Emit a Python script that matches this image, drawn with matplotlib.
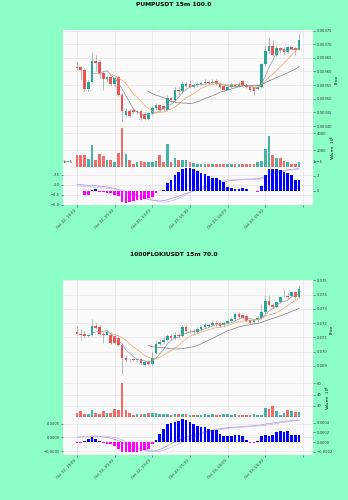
import matplotlib
matplotlib.use('Agg')
import matplotlib.pyplot as plt
import numpy as np
import pandas as pd

W, H = 348, 500
BG = '#8cffc6'
UP, DOWN = '#26a69a', '#ef5350'
WICK = '#8a8a8a'

times = pd.date_range('2024-10-22 18:00', periods=60, freq='15min')

# ---- PUMPUSDT ----
pump_title = 'PUMPUSDT 15m 100.0'
pump_open = [.003618, .003615, .003604, .003535, .003563, .003639, .003633, .003594, .003572, .003579,
             .003555, .003578, .003515, .003442, .003456, .003460, .003451, .003457, .003445, .003427,
             .003448, .003466, .003476, .003472, .003460, .003502, .003496, .003533, .003530, .003548,
             .003555, .003543, .003550, .003555, .003557, .003563, .003557, .003565, .003555, .003548,
             .003533, .003543, .003551, .003548, .003565, .003551, .003545, .003543, .003535, .003543,
             .003627, .003676, .003694, .003661, .003685, .003682, .003673, .003688, .003685, .003679]
pump_close = [.003614, .003604, .003535, .003563, .003639, .003630, .003594, .003572, .003579, .003555,
              .003576, .003515, .003454, .003456, .003438, .003451, .003457, .003429, .003427, .003448,
              .003466, .003476, .003460, .003463, .003502, .003496, .003533, .003530, .003555, .003555,
              .003543, .003550, .003555, .003559, .003562, .003557, .003562, .003555, .003545, .003533,
              .003543, .003551, .003548, .003555, .003548, .003543, .003533, .003530, .003543, .003627,
              .003676, .003694, .003661, .003685, .003679, .003673, .003688, .003682, .003679, .003716]
pump_high = [.003633, .003618, .003612, .003570, .003673, .003661, .003643, .003600, .003584, .003584,
             .003582, .003584, .003521, .003466, .003462, .003466, .003460, .003462, .003450, .003451,
             .003474, .003484, .003482, .003478, .003515, .003508, .003543, .003543, .003567, .003560,
             .003570, .003558, .003563, .003567, .003572, .003570, .003572, .003572, .003560, .003553,
             .003548, .003563, .003557, .003567, .003570, .003557, .003551, .003548, .003551, .003631,
             .003698, .003728, .003716, .003698, .003691, .003688, .003694, .003691, .003691, .003740]
pump_low = [.003604, .003570, .003530, .003530, .003557, .003600, .003576, .003533, .003563, .003548,
            .003543, .003509, .003417, .003436, .003434, .003445, .003445, .003423, .003421, .003421,
            .003442, .003460, .003454, .003454, .003454, .003490, .003490, .003515, .003523, .003543,
            .003539, .003541, .003545, .003550, .003553, .003551, .003553, .003550, .003539, .003527,
            .003531, .003539, .003543, .003543, .003543, .003539, .003527, .003515, .003531, .003539,
            .003624, .003667, .003657, .003655, .003667, .003664, .003667, .003677, .003661, .003677]
pump_volume = [1400, 1400, 1400, 900, 2640, 770, 1490, 1280, 810, 770,
               600, 1700, 4600, 1530, 850, 340, 600, 720, 640, 600,
               640, 720, 1360, 640, 2680, 600, 1020, 810, 810, 810,
               640, 510, 400, 350, 380, 300, 350, 400, 380, 330,
               300, 400, 350, 380, 300, 330, 300, 350, 640, 720,
               2130, 3620, 1360, 1020, 1100, 720, 640, 340, 340, 640]
pump_hist = [-0.09, -0.09, -0.62, -0.53, 0.13, 0.22, -0.13, -0.13, -0.27, -0.31,
             -0.53, -0.76, -1.56, -1.64, -1.51, -1.42, -1.33, -1.33, -1.20, -0.98,
             -0.80, -0.31, -0.09, 0.13, 1.02, 1.47, 2.13, 2.58, 2.93, 3.02,
             3.02, 2.93, 2.67, 2.36, 2.22, 2.04, 1.78, 1.69, 1.47, 1.24,
             0.44, 0.36, 0.27, 0.27, 0.36, 0.27, -0.09, -0.09, -0.13, 0.67,
             2.13, 2.93, 2.89, 2.93, 2.80, 2.58, 2.36, 2.13, 1.47, 1.47]
pump_macd = [0.2, 0.1, 0.0, -0.1, -0.1, -0.2, -0.3, -0.4, -0.5, -0.7,
             -0.9, -1.1, -1.4, -1.8, -2.2, -2.5, -2.8, -3.1, -3.3, -3.6,
             -3.8, -3.9, -4.0, -3.9, -3.7, -3.4, -3.1, -2.8, -2.5, -2.1,
             -1.8, -1.5, -1.2, -0.9, -0.6, -0.3, 0.0, 0.3, 0.6, 0.8,
             1.0, 1.1, 1.2, 1.3, 1.4, 1.5, 1.5, 1.5, 1.6, 1.8,
             2.2, 2.6, 2.9, 3.2, 3.4, 3.6, 3.8, 3.9, 4.0, 4.2]
pump_signal = [-0.2, -0.3, -0.3, -0.4, -0.5, -0.5, -0.6, -0.7, -0.8, -0.9,
               -1.0, -1.2, -1.4, -1.6, -1.9, -2.2, -2.5, -2.8, -3.1, -3.4,
               -3.7, -4.0, -4.2, -4.3, -4.2, -4.0, -3.7, -3.3, -2.9, -2.4,
               -1.9, -1.4, -0.9, -0.5, -0.1, 0.3, 0.6, 0.9, 1.1, 1.2,
               1.3, 1.3, 1.3, 1.4, 1.4, 1.4, 1.4, 1.4, 1.4, 1.5,
               1.8, 2.2, 2.6, 3.0, 3.3, 3.5, 3.7, 3.8, 3.9, 4.0]

# ---- 1000FLOKIUSDT ----
floki_title = '1000FLOKIUSDT 15m 70.0'
floki_open = [.07136, .07126, .07126, .07107, .07117, .07179, .07174, .07126, .07119, .07119,
              .07112, .07095, .07043, .06957, .06940, .06945, .06940, .06950, .06905, .06929,
              .06912, .06993, .07055, .07064, .07079, .07107, .07095, .07119, .07112, .07171,
              .07143, .07145, .07140, .07160, .07171, .07179, .07183, .07202, .07198, .07183,
              .07198, .07214, .07226, .07262, .07255, .07250, .07221, .07207, .07221, .07238,
              .07274, .07357, .07326, .07310, .07345, .07388, .07393, .07393, .07421, .07381]
floki_close = [.07126, .07119, .07107, .07117, .07179, .07167, .07126, .07119, .07136, .07060,
               .07060, .07043, .06957, .06940, .06938, .06940, .06950, .06917, .06929, .06912,
               .06957, .07055, .07064, .07079, .07107, .07095, .07119, .07107, .07171, .07143,
               .07145, .07136, .07160, .07171, .07186, .07188, .07198, .07190, .07179, .07198,
               .07214, .07226, .07262, .07243, .07238, .07214, .07202, .07221, .07238, .07274,
               .07357, .07326, .07310, .07345, .07381, .07393, .07381, .07421, .07381, .07436]
floki_high = [.07179, .07155, .07143, .07126, .07226, .07198, .07183, .07140, .07150, .07136,
              .07119, .07107, .07055, .06969, .06950, .06952, .06957, .06957, .06940, .06940,
              .06998, .07083, .07095, .07107, .07126, .07126, .07136, .07136, .07183, .07183,
              .07160, .07155, .07169, .07183, .07202, .07198, .07221, .07214, .07207, .07207,
              .07226, .07245, .07279, .07274, .07262, .07260, .07231, .07231, .07250, .07333,
              .07397, .07397, .07340, .07357, .07393, .07440, .07417, .07428, .07428, .07469]
floki_low = [.07119, .07083, .07095, .07102, .07112, .07155, .07112, .07060, .07114, .07055,
             .07050, .07036, .06845, .06929, .06929, .06933, .06929, .06905, .06898, .06902,
             .06905, .06983, .07045, .07055, .07071, .07083, .07088, .07095, .07102, .07126,
             .07131, .07126, .07131, .07150, .07164, .07169, .07174, .07179, .07169, .07174,
             .07188, .07207, .07216, .07231, .07226, .07207, .07193, .07198, .07212, .07231,
             .07269, .07317, .07298, .07305, .07340, .07381, .07369, .07390, .07369, .07374]
floki_volume = [7, 10, 6, 6, 12, 7, 6, 11, 7, 7,
                14, 12, 60, 13, 7, 4, 6, 6, 6, 8,
                8, 7, 6, 6, 6, 4, 6, 6, 6, 6,
                4, 4, 4, 4, 5, 4, 5, 4, 4, 5,
                5, 4, 5, 4, 4, 4, 4, 5, 4, 4,
                16, 14, 19, 10, 4, 7, 13, 10, 9, 9]
floki_hist = [-0.13, -0.13, 0.2, 0.53, 1.0, 0.53, 0.2, -0.2, -0.47, -0.47,
              -0.87, -1.33, -2.0, -2.13, -2.13, -2.07, -2.0, -1.87, -1.67, -1.33,
              -0.47, 0.33, 1.67, 2.67, 3.67, 3.87, 4.2, 4.33, 4.67, 4.53,
              4.2, 3.67, 3.33, 3.13, 3.0, 2.67, 2.47, 2.47, 1.67, 1.2,
              1.2, 1.2, 1.47, 1.47, 1.33, 0.47, -0.13, -0.13, 0.2, 1.2,
              1.47, 1.33, 1.47, 2.0, 2.2, 2.0, 2.2, 1.53, 1.53, 1.53]
floki_macd = [0.1, 0.2, 0.3, 0.4, 0.5, 0.5, 0.4, 0.2, 0.0, -0.3,
              -0.7, -1.1, -1.7, -2.3, -2.8, -3.3, -3.8, -4.2, -4.6, -4.9,
              -5.0, -4.8, -4.3, -3.7, -3.0, -2.3, -1.7, -1.1, -0.5, 0.0,
              0.5, 0.9, 1.3, 1.7, 2.0, 2.3, 2.6, 2.9, 3.1, 3.3,
              3.5, 3.6, 3.7, 3.8, 3.9, 4.0, 4.1, 4.2, 4.3, 4.5,
              4.8, 5.0, 5.2, 5.4, 5.6, 5.8, 5.9, 6.0, 6.1, 6.2]
floki_signal = [0.0, 0.1, 0.2, 0.3, 0.4, 0.5, 0.5, 0.5, 0.4, 0.2,
                0.0, -0.4, -0.9, -1.5, -2.1, -2.7, -3.2, -3.7, -4.1, -4.5,
                -4.8, -5.0, -4.9, -4.6, -4.1, -3.5, -2.9, -2.3, -1.7, -1.1,
                -0.5, 0.1, 0.6, 1.1, 1.5, 1.9, 2.2, 2.5, 2.8, 3.0,
                3.2, 3.4, 3.5, 3.6, 3.7, 3.8, 3.9, 4.0, 4.1, 4.2,
                4.4, 4.6, 4.8, 5.0, 5.2, 5.4, 5.6, 5.8, 6.0, 6.1]

FS = 2.7


def px_axes(fig, x0, y0, x1, y1):
    return fig.add_axes([x0 / W, 1 - y1 / H, (x1 - x0) / W, (y1 - y0) / H])


def base_style(ax):
    ax.set_facecolor('#fafafa')
    for s in ax.spines.values():
        s.set_visible(False)
    ax.grid(True, color='#e2e2e2', lw=0.4)
    ax.set_axisbelow(True)
    ax.tick_params(labelsize=FS, length=1.5, width=0.4, pad=1, colors='#333333')
    ax.set_xlim(-3.7, 62.7)
    ax.set_xticks(np.arange(0, 61, 10))


def draw_chart(top, title, o, h, l, c, vol, hist, macd, signal,
               pspan, vspan, vticks, vexp, mspan, hspan, mscale, hticks, mticks):
    o, h, l, c = map(np.asarray, (o, h, l, c))
    x = np.arange(len(o))
    cols = np.where(c >= o, UP, DOWN)
    y0 = top
    fig.text(0.5, 1 - (y0 - 25) / H, title, ha='center', va='center',
             fontsize=4.3, fontweight='bold')

    # price panel
    ax = px_axes(fig, 63, y0, 313, y0 + 98)
    base_style(ax)
    ax.vlines(x, l, h, colors=WICK, lw=0.4, zorder=2)
    body = np.maximum(np.abs(c - o), (pspan[1] - pspan[0]) * 0.004)
    ax.bar(x, body, bottom=np.minimum(o, c), width=0.7, color=cols, zorder=3)
    close = pd.Series(c)
    for n, colr in [(5, '#8e9aa8'), (10, '#f4a65c'), (20, '#7d7d7d')]:
        ax.plot(x, close.rolling(n).mean(), color=colr, lw=0.5, zorder=4)
    ax.set_ylim(*pspan)
    ax.yaxis.tick_right()
    ax.yaxis.set_label_position('right')
    ax.set_ylabel('Price', fontsize=FS, labelpad=2)
    ax.tick_params(labelbottom=False, bottom=False)

    # volume panel
    axv = px_axes(fig, 63, y0 + 98, 313, y0 + 137)
    base_style(axv)
    axv.bar(x, vol, width=0.7, color=cols, alpha=0.85)
    axv.set_ylim(0, vspan)
    axv.set_yticks(vticks)
    axv.yaxis.tick_right()
    axv.yaxis.set_label_position('right')
    axv.set_ylabel('Volume  $10^{%d}$' % vexp, fontsize=FS, labelpad=2)
    axv.tick_params(labelbottom=False, bottom=False)

    # macd panel
    axm = px_axes(fig, 63, y0 + 137, 313, y0 + 175)
    base_style(axm)
    m = np.asarray(macd) * mscale
    s = np.asarray(signal) * mscale
    axm.plot(x, m, color='#a793d8', lw=0.5)
    axm.plot(x, s, color='#c9b8ee', lw=0.5)
    axm.set_ylim(*mspan)
    axm.set_yticks(mticks)
    axm.yaxis.get_offset_text().set_fontsize(FS)
    labels = [t.strftime('%b %d, %H:%M') if i < len(o) else '' for i, t in
              zip(range(0, 61, 10), list(times[::10]) + [None])]
    axm.set_xticklabels(labels, rotation=45, ha='right')

    axh = axm.twinx()
    for sp in axh.spines.values():
        sp.set_visible(False)
    hv = np.asarray(hist) * mscale * 1.0
    axh.bar(x, hv, width=0.7, color=np.where(hv >= 0, 'blue', 'magenta'))
    axh.set_ylim(*hspan)
    axh.set_yticks(hticks)
    axh.tick_params(labelsize=FS, length=1.5, width=0.4, pad=1, colors='#333333')
    off = axh.yaxis.get_offset_text()
    off.set_fontsize(FS)
    off.set_ha('left')
    axh.set_xlim(-3.7, 62.7)


fig = plt.figure(figsize=(W / 100, H / 100), dpi=100, facecolor=BG)

draw_chart(30, pump_title, pump_open, pump_high, pump_low, pump_close,
           pump_volume, pump_hist, pump_macd, pump_signal,
           pspan=(0.003393, 0.003752), vspan=4600, vticks=[2000, 4000], vexp=6,
           mspan=(-5.0e-5, 4.5e-5), hspan=(-1.95e-5, 3.22e-5), mscale=1e-5,
           hticks=[0, 2e-5], mticks=[-5e-5, -2.5e-5, 0, 2.5e-5])

draw_chart(280, floki_title, floki_open, floki_high, floki_low, floki_close,
           floki_volume, floki_hist, floki_macd, floki_signal,
           pspan=(0.06814, 0.07502), vspan=69.6, vticks=[20, 40, 60], vexp=6,
           mspan=(-0.00063, 0.000734), hspan=(-0.000266, 0.000514), mscale=1e-4,
           hticks=[-0.0002, 0, 0.0002, 0.0004], mticks=[-0.0005, 0, 0.0005])

fig.savefig('out.png', dpi=100, facecolor=BG)
